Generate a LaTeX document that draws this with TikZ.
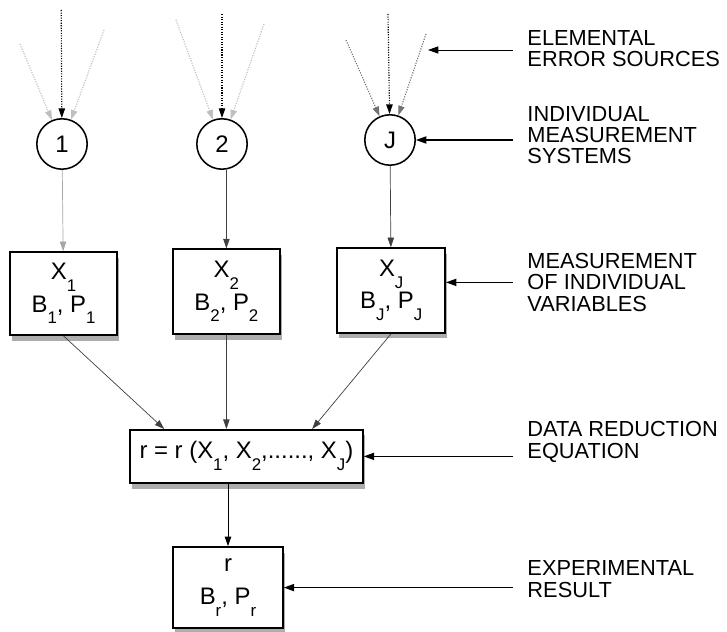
\documentclass[tikz,border=0pt]{standalone}
\usepackage{fontspec}
\setmainfont{Liberation Sans}
\usepackage{tikz}
\usetikzlibrary{arrows.meta,positioning,calc,shadows}

% lowered index, set smaller than the letter it follows
\newcommand{\lo}[1]{\raisebox{-0.5em}{\fontsize{12}{12}\selectfont #1}}

\begin{document}
\begin{tikzpicture}[
    sys/.style={draw, circle, line width=1.1pt, minimum size=1.26cm, inner sep=0pt, font=\fontsize{17}{17}\selectfont},
    box/.style={draw, line width=1.1pt, fill=white, align=center, inner sep=0pt, font=\fontsize{17}{23}\selectfont,
        drop shadow={shadow xshift=1.5pt, shadow yshift=-4pt, fill=black!40, opacity=0.8}},
    lab/.style={anchor=west, align=left, inner xsep=0.35cm, inner ysep=0pt, font=\fontsize{15.5}{15.2}\selectfont},
    arr/.style={-{Triangle[length=2.6mm, width=1.8mm]}, line width=0.9pt},
    con/.style={-{Triangle[length=2.4mm, width=1.6mm]}, line width=0.5pt, black!75},
    err/.style={-{Triangle[length=2.4mm, width=1.6mm]}, densely dotted, line width=0.8pt}
]
\useasboundingbox (0,0) rectangle (18.175,-15.8);

% individual measurement systems
\node[sys] (c1) at (1.55,-3.6) {1};
\node[sys] (c2) at (5.55,-3.6) {2};
\node[sys] (cJ) at (9.75,-3.5) {J};

% elemental error sources
\coordinate (e1a) at (0.5,-1.1);
\coordinate (e1b) at (1.53,-0.25);
\coordinate (e1c) at (2.6,-0.75);
\coordinate (e2a) at (4.4,-0.5);
\coordinate (e2b) at (5.55,-0.35);
\coordinate (e2c) at (6.6,-0.6);
\coordinate (e3a) at (8.65,-1.0);
\coordinate (e3b) at (9.7,-0.35);
\coordinate (e3c) at (10.65,-0.85);
\coordinate (src) at (10.7,-1.25);

\draw[err, black!25] (e1a) -- (c1);
\draw[err] (e1b) -- (c1);
\draw[err, black!25] (e1c) -- (c1);
\draw[err, black!25] (e2a) -- (c2);
\draw[err] (e2b) -- (c2);
\draw[err, black!25] (e2c) -- (c2);
\draw[err, black!55] (e3a) -- (cJ);
\draw[err] (e3b) -- (cJ);
\draw[err, black!55] (e3c) -- (cJ);

% measured variables
\node[box, minimum width=2.68cm, minimum height=2.08cm] (b1) at (1.59,-7.34) {X\lo{1}\\B\lo{1}, P\lo{1}};
\node[box, minimum width=2.68cm, minimum height=2.12cm] (b2) at (5.66,-7.29) {X\lo{2}\\B\lo{2}, P\lo{2}};
\node[box, minimum width=2.7cm, minimum height=2.12cm] (bJ) at (9.78,-7.26) {X\lo{J}\\B\lo{J}, P\lo{J}};

% data reduction and result
\node[box, minimum width=5.83cm, minimum height=1.33cm] (eq) at (6.16,-11.41) {r = r (X\lo{1}, X\lo{2},......, X\lo{J})};
\node[box, minimum width=2.75cm, minimum height=2.03cm] (res) at (5.7,-14.69) {r\\B\lo{r}, P\lo{r}};

\draw[con, black!35] (c1) -- (b1);
\draw[con] (b2.north |- c2.south) -- (b2.north);
\draw[con] (cJ) -- (bJ);

\draw[con] (b1.south) -- ($(eq.north west)!0.15!(eq.north east)$);
\draw[con] (b2.south) -- (b2.south |- eq.north);
\draw[con] (bJ.south) -- ($(eq.north west)!0.78!(eq.north east)$);
\draw[con, black, line width=0.7pt] (res.north |- eq.south) -- (res.north);

% captions on the right
\node[lab] (l1) at (12.83,-1.21) {ELEMENTAL\\ERROR SOURCES};
\node[lab] (l2) at (12.83,-3.38) {INDIVIDUAL\\MEASUREMENT\\SYSTEMS};
\node[lab] (l3) at (12.83,-7.06) {MEASUREMENT\\OF INDIVIDUAL\\VARIABLES};
\node[lab] (l4) at (12.83,-11.05) {DATA REDUCTION\\EQUATION};
\node[lab] (l5) at (12.83,-14.48) {EXPERIMENTAL\\RESULT};

\draw[arr, line width=0.6pt] (src -| l1.west) -- (src);
\draw[arr] (cJ.east -| l2.west) -- (cJ.east);
\draw[arr] (l3.west) -- (l3.west -| bJ.east);
\draw[arr] (eq.east -| l4.west) -- (eq.east);
\draw[arr] (res.east -| l5.west) -- (res.east);
\end{tikzpicture}
\end{document}
